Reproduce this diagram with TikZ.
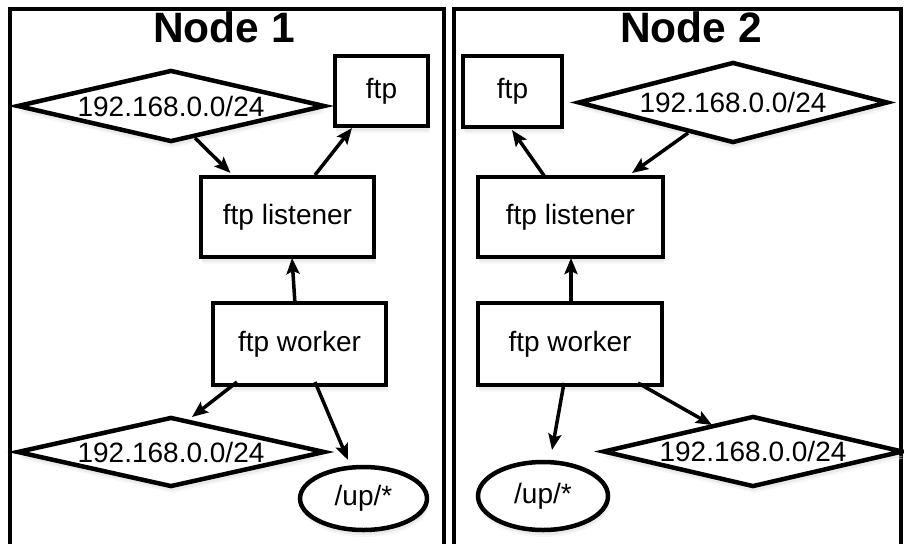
\documentclass[tikz,border=0pt]{standalone}
\usepackage{fontspec}
\setmainfont{Liberation Sans}
\usetikzlibrary{shapes.geometric,arrows.meta,calc,shadows}
\begin{document}
\begin{tikzpicture}[x=1pt,y=-1pt,
  shd/.style={drop shadow={shadow xshift=1.5pt,shadow yshift=-7pt,fill=black!6,draw=none},
              drop shadow={shadow xshift=1pt,shadow yshift=-5pt,fill=black!13,draw=none}},
  lbl/.style={font=\fontsize{28}{32}\selectfont},
  box/.style={draw,line width=4.5pt,fill=white,inner sep=0pt,lbl,shd},
  dia/.style={diamond,aspect=4,draw,line width=4.5pt,fill=white,inner sep=0pt,lbl,shd},
  ell/.style={ellipse,draw,line width=4.5pt,fill=white,inner sep=0pt,lbl,shd},
  ttl/.style={font=\fontsize{42.5}{46}\selectfont\bfseries,anchor=base,inner sep=0pt},
  arr/.style={line width=3.5pt,-{Stealth[length=16pt,width=13pt,inset=3pt]}},
  panel/.style={line width=3.5pt}
]
\useasboundingbox (0,0) rectangle (904,543);
% panels
\draw[panel] (10,546) -- (10,9) -- (444,9) -- (444,546);
\draw[panel] (454,546) -- (454,9) -- (901,9) -- (901,546);
\node[ttl] (t1) at (224,42) {Node 1};
\node[ttl] (t2) at (691,42) {Node 2};
% left panel
\node[dia,minimum width=308pt,minimum height=72pt] (d1) at (171,106) {192.168.0.0/24};
\node[box,minimum width=93pt,minimum height=70pt] (ftpL) at (381.5,91) {ftp};
\node[box,minimum width=173pt,minimum height=80pt] (lisL) at (287.5,217) {ftp listener};
\node[box,minimum width=173pt,minimum height=82pt] (wkL) at (299.5,344) {ftp worker};
\node[dia,minimum width=308pt,minimum height=70pt] (d2L) at (171,452) {192.168.0.0/24};
\node[ell,minimum width=127pt,minimum height=63pt] (elL) at (363.5,498.5) {/up/*};
\draw[arr] ($(d1.center)+(24,32)$) -- ($(lisL.center)+(-57,-44)$);
\draw[arr] ($(lisL.center)+(27.5,-42)$) -- ($(ftpL.center)+(-29.5,37)$);
\draw[arr] ($(wkL.center)+(-4.5,-40)$) -- ($(lisL.center)+(4.5,41)$);
\draw[arr] ($(wkL.center)+(-62.5,38)$) -- ($(d2L.center)+(21,-35)$);
\draw[arr] ($(wkL.center)+(15.5,38)$) -- ($(elL.center)+(-15.5,-38.5)$);
% right panel
\node[box,minimum width=99pt,minimum height=71pt] (ftpR) at (512.5,91.5) {ftp};
\node[dia,minimum width=310pt,minimum height=81pt] (dR1) at (733,102.5) {192.168.0.0/24};
\node[box,minimum width=185pt,minimum height=80pt] (lisR) at (570.5,217) {ftp listener};
\node[box,minimum width=184pt,minimum height=82pt] (wkR) at (570,344) {ftp worker};
\node[ell,minimum width=130pt,minimum height=68pt] (elR) at (543,496) {/up/*};
\node[dia,minimum width=300pt,minimum height=71pt] (dR2) at (753,451.5) {192.168.0.0/24};
\draw[arr] ($(lisR.center)+(-25.5,-40)$) -- ($(ftpR.center)+(-0.5,38.5)$);
\draw[arr] ($(dR1.center)+(-45,30.5)$) -- ($(lisR.center)+(61.5,-44)$);
\draw[arr] ($(wkR.center)+(1,-40)$) -- ($(lisR.center)+(0.5,41)$);
\draw[arr] ($(wkR.center)+(-6,39)$) -- ($(elR.center)+(9,-46)$);
\draw[arr] ($(wkR.center)+(68,39)$) -- ($(dR2.center)+(-41,-26.5)$);
\end{tikzpicture}
\end{document}
